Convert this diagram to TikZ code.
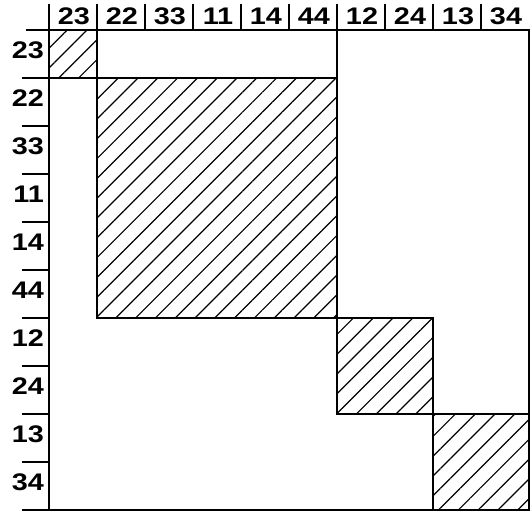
\documentclass[tikz,border=0pt]{standalone}
\usepackage{fontspec}
\newfontfamily\lblfont{Liberation Sans}[FakeStretch=1.2]
\usetikzlibrary{patterns.meta}

\begin{document}
\begin{tikzpicture}[
                    x=1pt, y=-1pt,
                    frame/.style={line width=2.4pt, line cap=rect},
                    hatched/.style={draw, line width=2.4pt, pattern={Lines[angle=45, distance=14pt, line width=1.2pt]}},
                    lbl/.style={font=\lblfont\bfseries\fontsize{24}{24}\selectfont, inner sep=0pt}
                ]
                    \useasboundingbox (0,0) rectangle (530,513);

                    % Hatched blocks
                    \path [hatched] (49,30) rectangle (97,78);
                    \path [hatched] (97,78) rectangle (337,318);
                    \path [hatched] (337,318) rectangle (433,414);
                    \path [hatched] (433,414) rectangle (529,510);

                    % Frame
                    \draw [frame] (27,30) -- (529,30) -- (529,510);
                    \draw [frame] (49,5) -- (49,510);
                    \draw [frame] (23,510) -- (529,510);
                    \draw [frame] (337,5) -- (337,318);

                    % Ticks
                    \foreach \i in {1,...,9} {
                        \draw [frame] (49+48*\i,5) -- (49+48*\i,30);
                        \draw [frame] (23,30+48*\i) -- (49,30+48*\i);
                    }

                    % Labels
                    \foreach \t [count=\i from 0] in {23,22,33,11,14,44,12,24,13,34} {
                        \node [lbl] (top\t) at (74+48*\i,16) {\t};
                        \node [lbl, anchor=east] (left\t) at (44,50+48*\i) {\t};
                    }
                \end{tikzpicture}
\end{document}
